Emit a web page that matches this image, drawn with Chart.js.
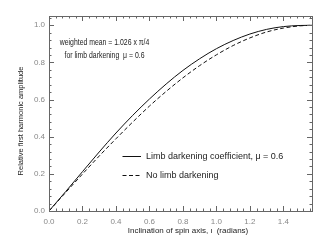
<!DOCTYPE html>
<html>
<head>
<meta charset="utf-8">
<script src="https://cdn.jsdelivr.net/npm/chart.js@4.4.1/dist/chart.umd.min.js"></script>
<style>
  html, body { margin: 0; padding: 0; background: #fff; }
  #wrap { width: 327px; height: 245px; }
</style>
</head>
<body>
<div id="wrap"><canvas id="c" width="327" height="245"></canvas></div>
<script>
// ---- data ----
const inclination = [0, 0.1, 0.2, 0.3, 0.4, 0.5, 0.6, 0.7, 0.8, 0.9, 1.0, 1.1, 1.2, 1.3, 1.4, 1.5, 1.5708];
const limbDarkened = [0, 0.105, 0.212, 0.318, 0.420, 0.515, 0.603, 0.684, 0.757, 0.820, 0.874, 0.918, 0.953, 0.978, 0.993, 0.999, 1.0];
const noLimbDarkening = [0, 0.100, 0.199, 0.296, 0.389, 0.479, 0.565, 0.644, 0.717, 0.783, 0.841, 0.891, 0.932, 0.964, 0.985, 0.997, 1.0];
const xTickValues = [0, 0.2, 0.4, 0.6, 0.8, 1.0, 1.2, 1.4];
const yTickValues = [0, 0.2, 0.4, 0.6, 0.8, 1.0];
const xMax = 1.5708;
const yMax = 1.05;
const seriesLabels = ['Limb darkening coefficient, \u03BC = 0.6', 'No limb darkening'];
const xTitle = 'Inclination of spin axis, \u03B9  (radians)';
const yTitle = 'Relative first harmonic amplitude';
const noteLines = ['weighted mean = 1.026 x \u03C0/4', 'for limb darkening  \u03BC = 0.6'];

const FONT = '"Liberation Sans", Arial, Helvetica, sans-serif';

const decor = {
  id: 'decor',
  afterDraw(chart) {
    const ctx = chart.ctx;
    const a = chart.chartArea;
    const xs = chart.scales.x, ys = chart.scales.y;
    ctx.save();
    // frame
    ctx.strokeStyle = '#666';
    ctx.lineWidth = 1;
    ctx.strokeRect(Math.round(a.left) + 0.5, Math.round(a.top) + 0.5,
                   Math.round(a.right - a.left), Math.round(a.bottom - a.top));
    // inward ticks on all sides
    const majX = xTickValues, majY = yTickValues;
    const stepX = (majX[1] - majX[0]) / 5, stepY = (majY[1] - majY[0]) / 5;
    ctx.beginPath();
    for (let v = 0, k = 0; v <= xMax + 1e-9; k++, v = k * stepX) {
      const major = k % 5 === 0;
      const L = major ? 5 : 2.5;
      const px = Math.round(xs.getPixelForValue(v)) + 0.5;
      ctx.moveTo(px, a.bottom); ctx.lineTo(px, a.bottom - L);
      ctx.moveTo(px, a.top); ctx.lineTo(px, a.top + L);
    }
    for (let v = 0, k = 0; v <= yMax + 1e-9; k++, v = k * stepY) {
      const major = k % 5 === 0;
      const L = major ? 5 : 2.5;
      const py = Math.round(ys.getPixelForValue(v)) + 0.5;
      ctx.moveTo(a.left, py); ctx.lineTo(a.left + L, py);
      ctx.moveTo(a.right, py); ctx.lineTo(a.right - L, py);
    }
    ctx.stroke();

    // axis titles
    ctx.fillStyle = '#222';
    ctx.font = '8px ' + FONT;
    ctx.textAlign = 'center';
    ctx.textBaseline = 'middle';
    ctx.fillText(xTitle, 188, 231);
    ctx.save();
    ctx.font = '7.5px ' + FONT;
    ctx.translate(21, 121);
    ctx.rotate(-Math.PI / 2);
    ctx.fillText(yTitle, 0, 0);
    ctx.restore();

    // annotation (narrow lettering as in the reference)
    ctx.font = '8.5px ' + FONT;
    [[noteLines[0], 42.5], [noteLines[1], 56]].forEach(([t, y]) => {
      ctx.save();
      ctx.translate(104.5, y);
      ctx.scale(0.81, 1);
      ctx.fillText(t, 0, 0);
      ctx.restore();
    });

    // legend
    ctx.font = '9px ' + FONT;
    ctx.textAlign = 'left';
    const ds = chart.data.datasets;
    const rows = [156.5, 175.5];
    ds.forEach((d, i) => {
      ctx.strokeStyle = '#111';
      ctx.lineWidth = 1;
      ctx.setLineDash(d.borderDash || []);
      ctx.beginPath();
      ctx.moveTo(122.5, rows[i]); ctx.lineTo(141, rows[i]);
      ctx.stroke();
      ctx.setLineDash([]);
      ctx.fillText(d.label, 146, rows[i]);
    });
    ctx.restore();
  }
};

new Chart(document.getElementById('c'), {
  type: 'line',
  data: {
    datasets: [
      {
        label: seriesLabels[0],
        data: inclination.map((x, i) => ({ x, y: limbDarkened[i] })),
        borderColor: '#111', borderWidth: 1, pointRadius: 0,
        cubicInterpolationMode: 'monotone', fill: false
      },
      {
        label: seriesLabels[1],
        data: inclination.map((x, i) => ({ x, y: noLimbDarkening[i] })),
        borderColor: '#111', borderWidth: 1, pointRadius: 0, borderDash: [4, 2.5],
        cubicInterpolationMode: 'monotone', fill: false
      }
    ]
  },
  options: {
    responsive: false,
    animation: false,
    devicePixelRatio: 1,
    layout: { padding: { left: 0, right: 15, top: 16, bottom: 0 } },
    plugins: { legend: { display: false }, tooltip: { enabled: false } },
    scales: {
      x: {
        type: 'linear', min: 0, max: xMax,
        afterBuildTicks: s => { s.ticks = xTickValues.map(v => ({ value: v })); },
        afterFit: s => { s.height = 34; },
        grid: { display: false, drawTicks: false },
        border: { display: false },
        ticks: {
          padding: 6, color: '#888', font: { family: FONT, size: 8 },
          maxRotation: 0, autoSkip: false,
          callback: v => Number(v).toFixed(1)
        }
      },
      y: {
        type: 'linear', min: 0, max: yMax,
        afterBuildTicks: s => { s.ticks = yTickValues.map(v => ({ value: v })); },
        afterFit: s => { s.width = 49; },
        grid: { display: false, drawTicks: false },
        border: { display: false },
        ticks: {
          padding: 4, color: '#888', font: { family: FONT, size: 8 },
          autoSkip: false,
          callback: v => Number(v).toFixed(1)
        }
      }
    }
  },
  plugins: [decor]
});
</script>
</body>
</html>
